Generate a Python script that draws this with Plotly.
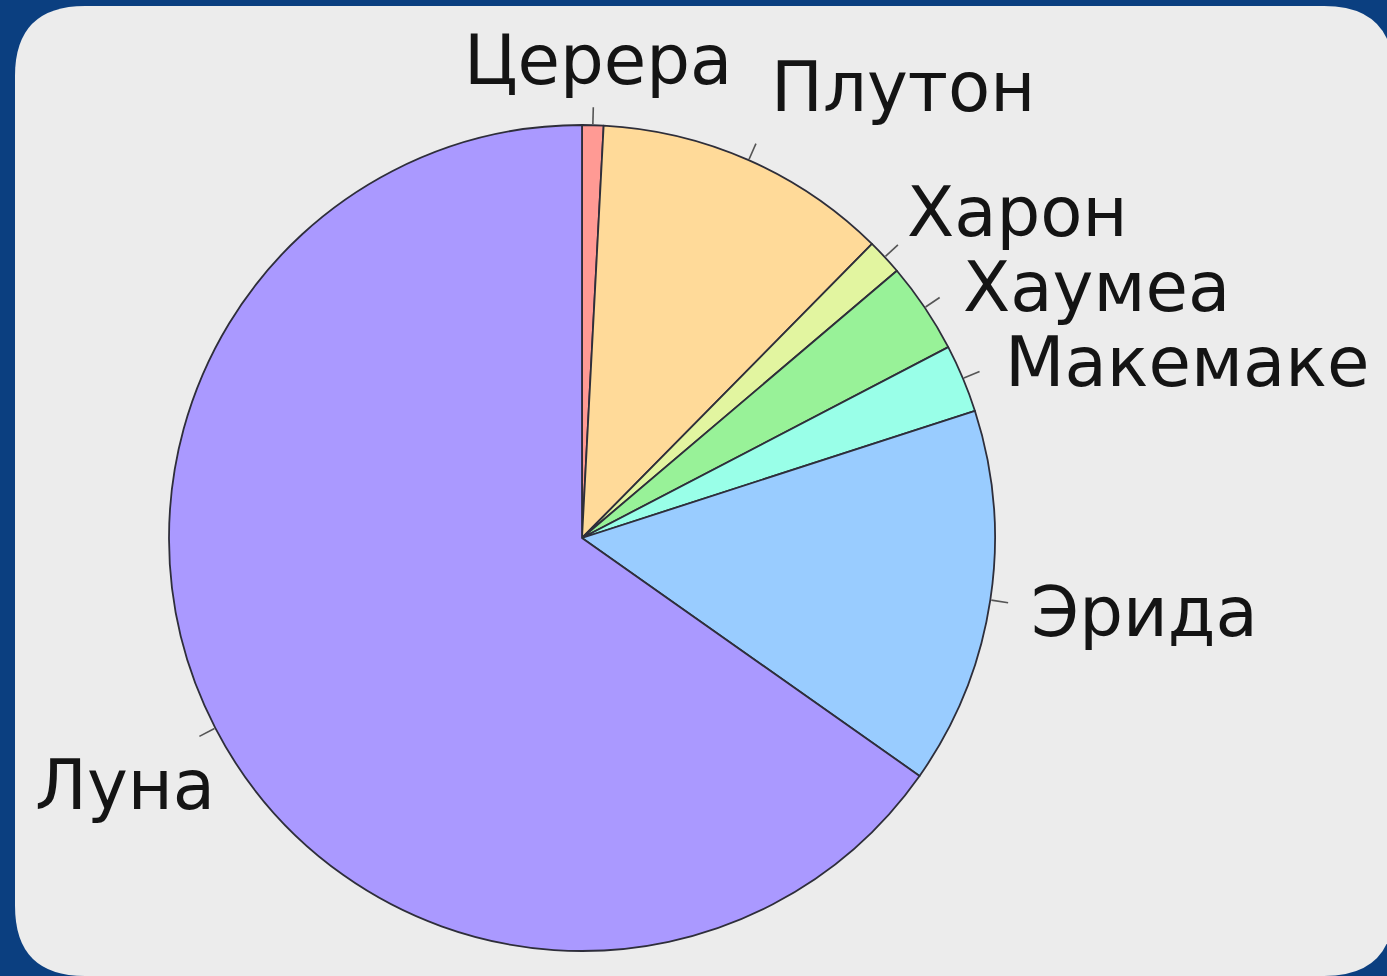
import math
import plotly.graph_objects as go

# ---- data (masses, 10^21 kg) ----
labels = ["Церера", "Плутон", "Харон", "Хаумеа", "Макемаке", "Эрида", "Луна"]
values = [0.94, 13.0, 1.59, 4.0, 3.0, 16.6, 73.4]

# ---- styles ----
colors = ["#ff9a94", "#ffda99", "#e2f5a0", "#98f298", "#99ffe8", "#99ccff", "#aa99ff"]
# per-label text alignment and pixel nudges (relative to the computed anchor)
label_xanchor = ["center", "left", "left", "left", "left", "left", "right"]
label_shift = [(4, 24), (4, 35), (-10, 17), (2, -3), (2, 1), (-2, -6), (38, -38)]

W, H = 1387, 976
CX, CY, R = 582, 538, 413          # pie centre / radius in pixels
FONT = "DejaVu Sans"
BG_BLUE = "#0b3f80"
PANEL = "#ececec"


def to_paper(px, py):
    return px / W, 1 - py / H


fig = go.Figure()
fig.add_trace(go.Pie(
    labels=labels,
    values=values,
    sort=False,
    direction="clockwise",
    rotation=0,
    textinfo="none",
    hoverinfo="label+value+percent",
    marker=dict(colors=colors, line=dict(color="#2e2e3a", width=1.8)),
    domain=dict(x=[(CX - R) / W, (CX + R) / W],
                y=[1 - (CY + R) / H, 1 - (CY - R) / H]),
    showlegend=False,
))

# ---- leader ticks and labels, positioned from the data angles ----
total = sum(values)
cum = 0.0
shapes = []
annotations = []
for i, (lab, v) in enumerate(zip(labels, values)):
    mid = (cum + v / 2) / total * 2 * math.pi
    cum += v
    s, c = math.sin(mid), math.cos(mid)
    x0, y0 = to_paper(CX + (R + 1) * s, CY - (R + 1) * c)
    x1, y1 = to_paper(CX + (R + 18) * s, CY - (R + 18) * c)
    shapes.append(dict(type="line", xref="paper", yref="paper",
                       x0=x0, y0=y0, x1=x1, y1=y1,
                       line=dict(color="#555555", width=1.6), layer="above"))
    ax, ay = to_paper(CX + 1.1 * R * s, CY - 1.1 * R * c)
    dx, dy = label_shift[i]
    annotations.append(dict(text=lab, xref="paper", yref="paper", x=ax, y=ay,
                            xanchor=label_xanchor[i], yanchor="middle",
                            xshift=dx, yshift=dy, showarrow=False,
                            font=dict(family=FONT, size=69, color="#141414")))

# ---- rounded light panel on the blue background ----
px0, py0, px1, py1, rad = 15, 6, 1394, 976, 70
rx, ry = rad / W, rad / H
a0, b1 = to_paper(px0, py0)   # left, top
a1, b0 = to_paper(px1, py1)   # right, bottom
path = (f"M {a0 + rx},{b1} L {a1 - rx},{b1} Q {a1},{b1} {a1},{b1 - ry} "
        f"L {a1},{b0 + ry} Q {a1},{b0} {a1 - rx},{b0} "
        f"L {a0 + rx},{b0} Q {a0},{b0} {a0},{b0 + ry} "
        f"L {a0},{b1 - ry} Q {a0},{b1} {a0 + rx},{b1} Z")
shapes.insert(0, dict(type="path", xref="paper", yref="paper", path=path,
                      fillcolor=PANEL, line=dict(width=0), layer="below"))

fig.update_layout(
    width=W, height=H,
    margin=dict(l=0, r=0, t=0, b=0),
    paper_bgcolor=BG_BLUE,
    plot_bgcolor=BG_BLUE,
    shapes=shapes,
    annotations=annotations,
    font=dict(family=FONT),
)

fig.write_html("out.html")
